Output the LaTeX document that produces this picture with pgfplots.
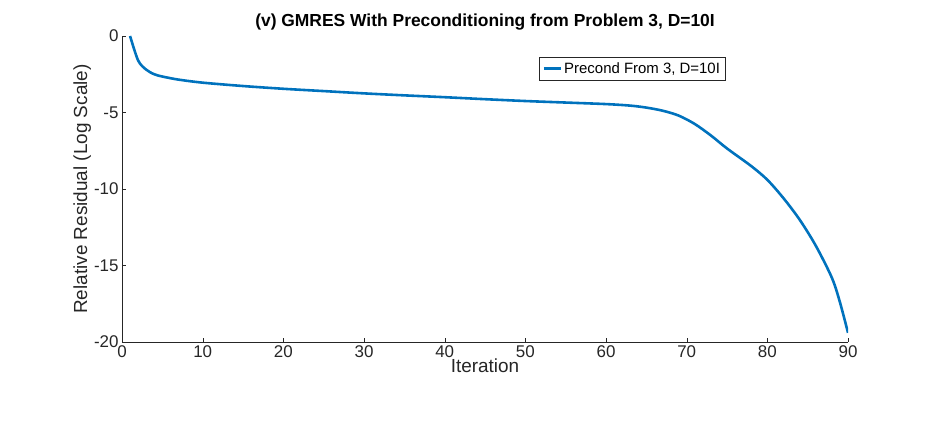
\documentclass[border=0pt]{standalone}
\usepackage{pgfplots}
\pgfplotsset{compat=1.18}
\usepackage{fontspec}
\setmainfont{Liberation Sans}
\definecolor{mblue}{RGB}{0,114,189}
\definecolor{tgray}{RGB}{38,38,38}
\begin{document}
\begin{tikzpicture}[x=1bp,y=1bp]
\useasboundingbox (0,0) rectangle (938,420);
\begin{axis}[at={(122bp,78bp)},anchor=south west,scale only axis,
 width=726bp,height=306bp,
 xmin=0,xmax=90,ymin=-20,ymax=0,
 xtick={0,10,...,90},ytick={-20,-15,-10,-5,0},
 axis x line*=bottom,axis y line*=left,
 axis line style={tgray,-},
 tick style={tgray},tick align=inside,
 ticklabel style={font=\fontsize{17}{18}\selectfont,text=tgray},
 /pgf/number format/assume math mode=true,
 xlabel={Iteration},ylabel={Relative Residual (Log Scale)},
 label style={font=\fontsize{19}{20}\selectfont,text=tgray},
 xlabel style={yshift=6bp},
 ylabel style={yshift=-4bp},
 title={\textbf{(v) GMRES With Preconditioning from Problem 3, D=10I}},
 title style={font=\fontsize{17.5}{18}\selectfont,yshift=-4bp},
 legend style={at={(0.575,0.93)},anchor=north west,font=\fontsize{15}{16}\selectfont,draw=tgray,inner sep=3bp},
 legend cell align=left,
]
\addplot[mblue,line width=2.6pt,smooth] coordinates {
(1,0)(2,-1.6)(3,-2.2)(4,-2.5)(5,-2.65)(7,-2.85)(10,-3.05)(15,-3.27)(20,-3.45)(25,-3.6)(30,-3.75)(35,-3.88)(40,-4.0)(45,-4.13)(50,-4.25)(55,-4.35)(60,-4.45)(63,-4.55)(65,-4.68)(67,-4.88)(69,-5.2)(71,-5.75)(73,-6.5)(75,-7.35)(78,-8.5)(80,-9.4)(82,-10.6)(84,-12.0)(86,-13.7)(88,-15.8)(89,-17.4)(90,-19.4)};
\addlegendentry{Precond From 3, D=10I}
\end{axis}
\end{tikzpicture}
\end{document}
